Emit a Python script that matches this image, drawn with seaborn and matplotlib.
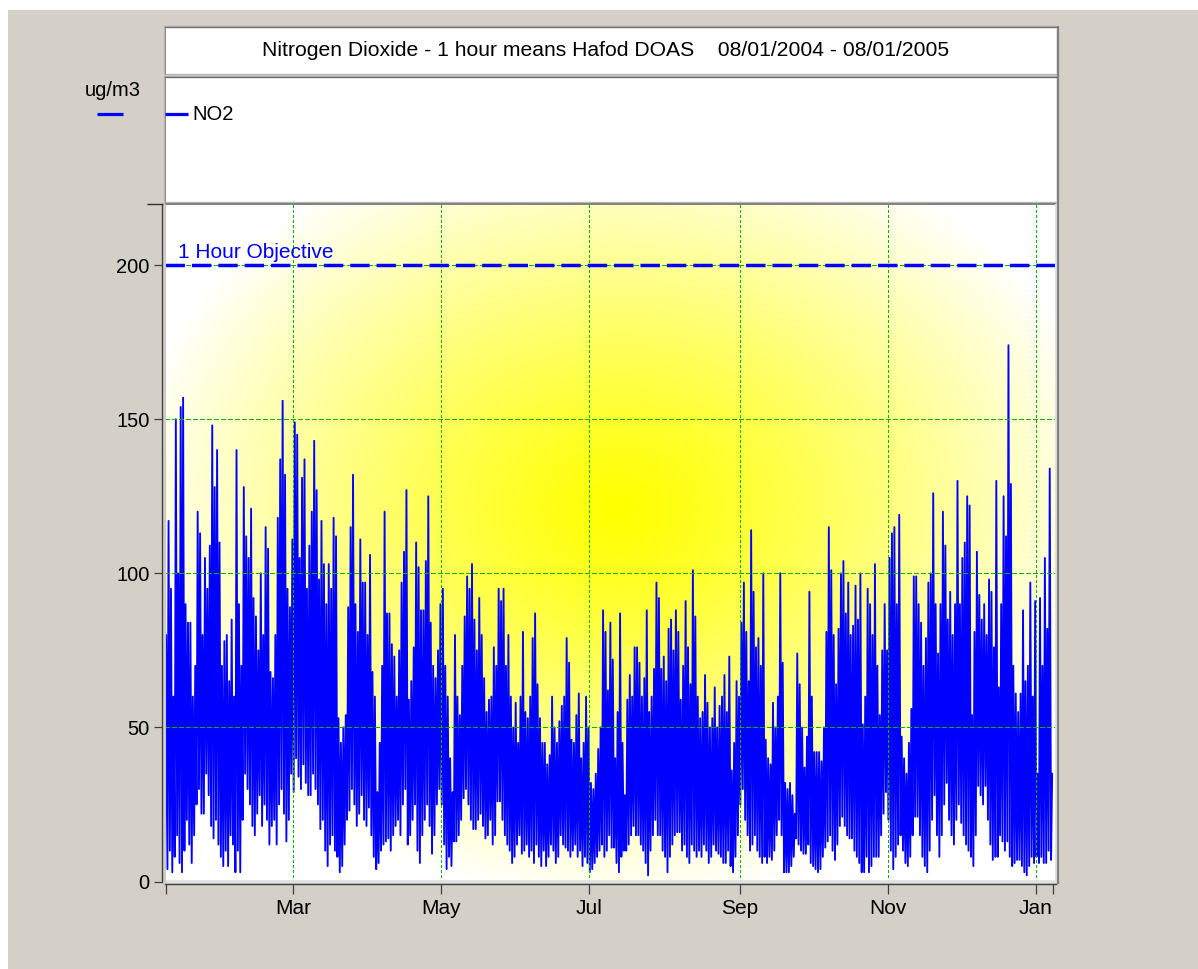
import numpy as np
import pandas as pd
import matplotlib
matplotlib.use("Agg")
import matplotlib.pyplot as plt
from matplotlib.patches import Rectangle
from matplotlib.lines import Line2D
import seaborn as sns

# ---- data -------------------------------------------------------------
start_date = "2004-01-08"
end_date = "2005-01-08"

# daily highest hourly NO2 value (ug/m3), one entry per day from 08/01/2004
daily_max = [
    80, 117, 95, 60, 150, 100, 154, 157, 90, 84,
    84, 60, 70, 120, 113, 80, 105, 95, 109, 148,
    128, 140, 110, 70, 78, 80, 65, 85, 60, 140,
    90, 70, 128, 112, 105, 121, 92, 86, 75, 100,
    80, 115, 108, 68, 66, 80, 118, 137, 156, 132,
    95, 89, 111, 149, 145, 105, 131, 137, 95, 109,
    120, 143, 127, 98, 117, 103, 90, 103, 95, 118,
    112, 53, 45, 50, 54, 89, 115, 132, 90, 81,
    111, 97, 97, 80, 106, 68, 60, 29, 45, 70,
    120, 87, 87, 77, 73, 60, 75, 97, 107, 127,
    59, 65, 76, 110, 102, 88, 88, 104, 125, 84,
    70, 66, 75, 90, 95, 70, 60, 40, 29, 80,
    60, 54, 70, 86, 99, 95, 103, 85, 75, 92,
    80, 66, 55, 59, 60, 76, 70, 95, 91, 95,
    70, 80, 60, 50, 58, 45, 60, 81, 55, 53,
    60, 79, 87, 64, 53, 45, 45, 38, 41, 60,
    50, 45, 52, 57, 60, 79, 71, 46, 45, 54,
    61, 40, 45, 60, 50, 32, 30, 35, 43, 50,
    88, 81, 62, 84, 72, 40, 55, 87, 45, 28,
    59, 67, 60, 76, 76, 71, 60, 66, 88, 55,
    60, 69, 97, 92, 69, 73, 65, 82, 85, 75,
    88, 81, 59, 70, 91, 76, 64, 101, 86, 60,
    53, 55, 67, 58, 50, 53, 63, 50, 57, 60,
    67, 55, 73, 36, 45, 65, 60, 84, 97, 81,
    65, 114, 94, 76, 79, 70, 100, 46, 40, 38,
    58, 50, 60, 100, 71, 32, 30, 32, 28, 22,
    74, 64, 50, 37, 47, 94, 60, 42, 42, 42,
    39, 50, 81, 115, 101, 80, 64, 82, 100, 104,
    87, 97, 80, 83, 96, 85, 100, 51, 60, 95,
    90, 80, 103, 70, 54, 75, 90, 75, 105, 113,
    115, 90, 119, 47, 40, 35, 45, 56, 99, 99,
    90, 84, 70, 79, 97, 100, 126, 90, 74, 90,
    120, 109, 85, 94, 80, 90, 130, 90, 105, 110,
    125, 122, 54, 81, 107, 93, 85, 90, 80, 98,
    94, 76, 130, 63, 90, 125, 112, 174, 129, 70,
    61, 55, 61, 88, 65, 70, 97, 60, 91, 35,
    92, 70, 105, 82, 134, 35,
]

# daily lowest hourly NO2 value (ug/m3)
daily_min = [
    5, 4, 10, 3, 8, 15, 6, 3, 10, 20,
    12, 6, 15, 25, 30, 22, 22, 35, 28, 18,
    14, 20, 12, 8, 5, 10, 5, 15, 12, 3,
    10, 3, 20, 35, 30, 25, 18, 15, 22, 28,
    18, 25, 20, 12, 18, 20, 12, 25, 30, 22,
    13, 20, 35, 29, 40, 34, 30, 38, 32, 28,
    28, 35, 30, 25, 17, 20, 10, 5, 12, 15,
    10, 8, 3, 5, 12, 20, 23, 30, 25, 18,
    22, 28, 20, 18, 24, 15, 8, 4, 6, 10,
    12, 13, 14, 10, 15, 18, 20, 15, 25, 30,
    12, 15, 20, 25, 10, 6, 15, 20, 25, 18,
    9, 15, 25, 30, 25, 12, 4, 8, 5, 13,
    13, 15, 20, 27, 30, 25, 20, 17, 17, 20,
    22, 18, 14, 15, 20, 12, 15, 26, 26, 20,
    15, 12, 10, 6, 8, 12, 15, 9, 10, 12,
    8, 10, 6, 12, 8, 5, 10, 5, 8, 12,
    10, 6, 8, 15, 12, 11, 10, 8, 10, 12,
    8, 10, 5, 8, 6, 3, 4, 6, 8, 10,
    12, 8, 10, 15, 11, 11, 6, 3, 8, 10,
    10, 12, 15, 18, 15, 15, 12, 10, 6, 2,
    10, 15, 20, 15, 15, 10, 8, 3, 8, 12,
    15, 16, 16, 10, 12, 8, 6, 12, 10, 8,
    10, 8, 12, 10, 6, 8, 12, 10, 9, 8,
    6, 6, 10, 5, 3, 8, 15, 25, 30, 20,
    15, 10, 12, 15, 10, 8, 6, 8, 6, 8,
    7, 10, 15, 20, 15, 3, 3, 3, 5, 8,
    14, 12, 10, 9, 9, 12, 6, 5, 4, 3,
    4, 8, 11, 13, 15, 10, 7, 12, 18, 21,
    18, 15, 14, 14, 10, 8, 6, 3, 3, 8,
    3, 5, 8, 8, 8, 15, 22, 29, 20, 10,
    4, 8, 12, 15, 10, 6, 5, 8, 15, 21,
    21, 15, 8, 5, 3, 10, 20, 28, 15, 8,
    15, 25, 32, 20, 15, 12, 20, 25, 19, 15,
    12, 10, 8, 5, 15, 31, 28, 25, 31, 20,
    12, 7, 8, 8, 15, 13, 10, 13, 8, 5,
    6, 7, 7, 5, 3, 2, 5, 8, 6, 8,
    6, 8, 6, 6, 10, 7,
]

objective_value = 200
objective_label = "1 Hour Objective"
y_ticks = [0, 50, 100, 150, 200]
month_ticks = ["2004-03-01", "2004-05-01", "2004-07-01",
               "2004-09-01", "2004-11-01", "2005-01-01"]
month_labels = ["Mar", "May", "Jul", "Sep", "Nov", "Jan"]
title_text = "Nitrogen Dioxide - 1 hour means Hafod DOAS    08/01/2004 - 08/01/2005"
unit_text = "ug/m3"
series_name = "NO2"

# ---- style ------------------------------------------------------------
sns.set_theme(style="white")
plt.rcParams["font.family"] = ["Liberation Sans", "DejaVu Sans"]
plt.rcParams["font.size"] = 14.5
plt.rcParams["text.color"] = "black"

W, H = 1198, 969
GREY = "#d4d0c8"
BLUE = "#0000ff"
GREEN = "#00b400"

fig = plt.figure(figsize=(W / 100, H / 100), dpi=100)
fig.patch.set_facecolor(GREY)


def fx(x):
    return x / W


def fy(y):
    return 1 - y / H


def hline(x0, x1, y, color, lw, z=5):
    fig.add_artist(Line2D([fx(x0), fx(x1)], [fy(y), fy(y)], transform=fig.transFigure,
                          color=color, lw=lw, zorder=z, solid_capstyle="butt"))


def vline(x, y0, y1, color, lw, z=5):
    fig.add_artist(Line2D([fx(x), fx(x)], [fy(y0), fy(y1)], transform=fig.transFigure,
                          color=color, lw=lw, zorder=z, solid_capstyle="butt"))


def panel(x0, y0, x1, y1):
    fig.add_artist(Rectangle((fx(x0), fy(y1)), (x1 - x0) / W, (y1 - y0) / H,
                             transform=fig.transFigure, facecolor="white",
                             edgecolor="#b8b8b8", lw=1.0, zorder=1))
    hline(x0, x1, y0 + 0.5, "#707070", 1.0, z=2)
    vline(x0 + 0.5, y0, y1, "#909090", 0.8, z=2)


# white strips along the top and left edge
fig.add_artist(Rectangle((0, fy(10)), 1, 10 / H, transform=fig.transFigure,
                         facecolor="white", edgecolor="none", zorder=0))
fig.add_artist(Rectangle((0, 0), 8 / W, 1, transform=fig.transFigure,
                         facecolor="white", edgecolor="none", zorder=0))

# title and legend boxes
panel(164, 26, 1057, 74)
panel(164, 76, 1057, 202)
fig.text(fx(606), fy(51), title_text, ha="center", va="center", fontsize=15.2, zorder=3)

# plot region in pixels
PX0, PX1, PY0, PY1 = 164.5, 1056, 203.5, 881.5
rect = [fx(PX0), fy(PY1), (PX1 - PX0) / W, (PY1 - PY0) / H]

# radial yellow-to-white backdrop
bg = fig.add_axes(rect, zorder=0)
gx = np.linspace(0, 1, 500)
gy = np.linspace(0, 1, 500)
GX, GY = np.meshgrid(gx, gy)
r = np.sqrt(((GX - 0.51) / 0.56) ** 2 + ((GY - 0.55) / 0.58) ** 2)
t = np.clip(r, 0, 1) ** 1.15
img = np.dstack([np.ones_like(t), np.ones_like(t), t])
bg.imshow(img, extent=(0, 1, 0, 1), origin="lower", aspect="auto", interpolation="bilinear")
bg.set_axis_off()

ax = fig.add_axes(rect, zorder=1)
ax.set_facecolor("none")

# two readings per day: the low then the high
base = pd.Timestamp(start_date)
times, values = [], []
for day, (lo, hi) in enumerate(zip(daily_min, daily_max)):
    times.append(base + pd.Timedelta(hours=24 * day + 5))
    values.append(lo)
    times.append(base + pd.Timedelta(hours=24 * day + 16))
    values.append(hi)
df = pd.DataFrame({"time": times, series_name: values})

sns.lineplot(data=df, x="time", y=series_name, ax=ax, color=BLUE, lw=1.35,
             estimator=None, legend=False, zorder=2)

# grid drawn over the trace
for m in month_ticks:
    ax.axvline(pd.Timestamp(m), color=GREEN, lw=1.0, ls=(0, (2, 2)), zorder=3,
               antialiased=False)
for v in y_ticks[1:]:
    ax.axhline(v, color=GREEN, lw=1.0, ls=(0, (3, 2)), zorder=3, antialiased=False)

# objective line and its label
ax.axhline(objective_value, color=BLUE, lw=2.5, ls=(0, (5.6, 2.0)), zorder=4)
ax.text(base + pd.Timedelta(days=5.6), objective_value + 2.3, objective_label,
        color=BLUE, fontsize=15, ha="left", va="baseline", zorder=5)

ax.set_xlim(base, pd.Timestamp(end_date) + pd.Timedelta(hours=30))
ax.set_ylim(0, 220)
ax.set_xlabel("")
ax.set_ylabel("")

ax.set_yticks(y_ticks)
ax.set_yticklabels([str(v) for v in y_ticks])
xt = [base + pd.Timedelta(hours=12)] + [pd.Timestamp(m) for m in month_ticks] + [pd.Timestamp(end_date)]
ax.set_xticks(xt)
ax.set_xticklabels([""] + month_labels + [""])

for side in ("top", "right"):
    ax.spines[side].set_visible(False)
for side in ("left", "bottom"):
    ax.spines[side].set_position(("outward", 1.8))
    ax.spines[side].set_color("#404040")
    ax.spines[side].set_linewidth(1.0)
ax.tick_params(axis="y", length=5.5, width=0.9, color="#404040", pad=3.5,
               labelsize=14.5, labelcolor="black", left=True)
ax.tick_params(axis="x", length=7.2, width=0.9, color="#404040", pad=3.5,
               labelsize=15, labelcolor="black", bottom=True)

# sunken frame around the plot region
hline(PX0, PX1, PY0 + 0.5, "#707070", 1.2)
hline(PX0, PX1 + 1, PY1 - 0.5, "#e2e2e2", 2.0)
vline(PX1 - 0.5, PY0, PY1, "#e2e2e2", 1.5)
vline(PX0 + 0.8, PY0, PY1, "#c8c8c8", 0.8)
# top cap of the value axis
hline(147, 162.5, 204, "#303030", 1.0)
# shadow along the right side of the stacked boxes
vline(1058, 26, 884, "#808080", 1.6)

# unit caption and series key
fig.text(fx(113), fy(90), unit_text, ha="center", va="center", fontsize=14.5)
hline(97, 123, 114, BLUE, 2.3)
hline(165, 188, 114, BLUE, 2.3)
fig.text(fx(192), fy(114), series_name, ha="left", va="center", fontsize=14.5)

fig.savefig("out.png", dpi=100, facecolor=fig.get_facecolor())
